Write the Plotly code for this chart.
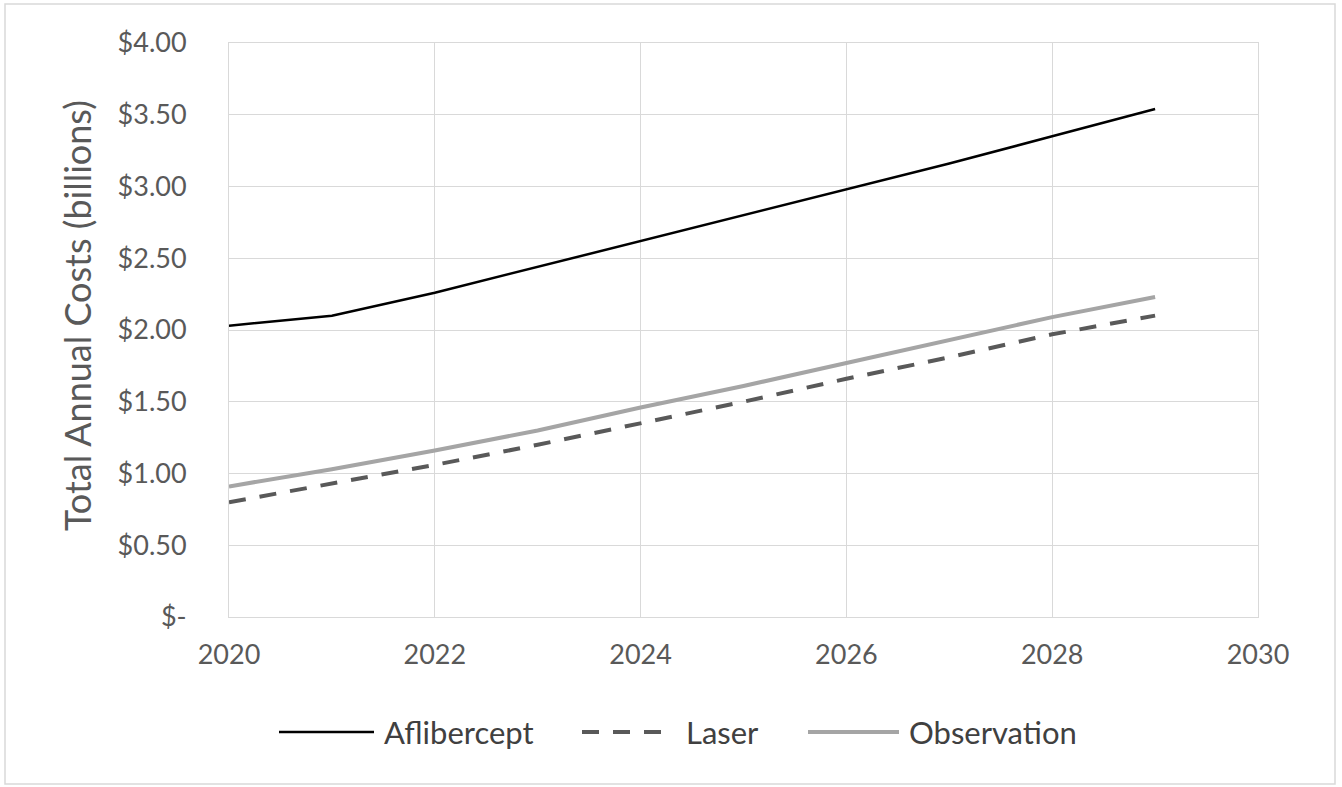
import plotly.graph_objects as go

# Projection years and annual cost (USD billions) per strategy
years = [2020, 2021, 2022, 2023, 2024, 2025, 2026, 2027, 2028, 2029]
aflibercept = [2.03, 2.10, 2.26, 2.44, 2.62, 2.80, 2.98, 3.16, 3.35, 3.54]
laser = [0.80, 0.93, 1.06, 1.20, 1.35, 1.50, 1.66, 1.81, 1.97, 2.10]
observation = [0.91, 1.03, 1.16, 1.30, 1.46, 1.61, 1.77, 1.93, 2.09, 2.23]

y_tickvals = [0, 0.5, 1.0, 1.5, 2.0, 2.5, 3.0, 3.5, 4.0]
y_ticktext = ["$-", "$0.50", "$1.00", "$1.50", "$2.00", "$2.50", "$3.00", "$3.50", "$4.00"]
x_tickvals = [2020, 2022, 2024, 2026, 2028, 2030]
y_title = "Total Annual Costs (billions)"

series = [
    ("Aflibercept", aflibercept, dict(color="#000000", width=2.5, dash="solid")),
    ("Laser", laser, dict(color="#595959", width=4, dash="17px,14px")),
    ("Observation", observation, dict(color="#A5A5A5", width=4, dash="solid")),
]

W, H = 1342, 787
L, R, T, B = 229, 84, 43, 170
PW, PH = W - L - R, H - T - B


def px_x(x):
    return (x - L) / PW


def px_y(y):
    return (H - B - y) / PH


FONT = "Lato, 'Open Sans', sans-serif"
fig = go.Figure()
for name, vals, line in series:
    fig.add_trace(go.Scatter(x=years, y=vals, mode="lines", name=name,
                             line=line, showlegend=False))

shapes = [
    # outer chart border
    dict(type="rect", xref="paper", yref="paper",
         x0=px_x(5), x1=px_x(1335), y0=px_y(784), y1=px_y(4),
         line=dict(color="#D9D9D9", width=1.5), fillcolor="rgba(0,0,0,0)"),
]
annotations = [
    # vertical axis title
    dict(text=y_title, xref="paper", yref="paper", x=px_x(77), y=px_y(316),
         xanchor="center", yanchor="middle", textangle=-90, showarrow=False,
         font=dict(family=FONT, size=36, color="#595959")),
]

# legend row beneath the axis
legend_items = [
    ("Aflibercept", series[0][2], 279, 374, 382),
    ("Laser", series[1][2], 582, 668, 684),
    ("Observation", series[2][2], 808, 899, 907),
]
ly = 732
for name, line, x0, x1, tx in legend_items:
    shapes.append(dict(type="line", xref="paper", yref="paper",
                       x0=px_x(x0), x1=px_x(x1), y0=px_y(ly), y1=px_y(ly),
                       line=dict(color=line["color"], width=line["width"],
                                 dash=line["dash"])))
    annotations.append(dict(text=name, xref="paper", yref="paper",
                            x=px_x(tx), y=px_y(ly), xanchor="left", yanchor="middle",
                            showarrow=False,
                            font=dict(family=FONT, size=31, color="#404040")))

fig.update_layout(
    width=W, height=H,
    margin=dict(l=L, r=R, t=T, b=B),
    paper_bgcolor="white", plot_bgcolor="white",
    font=dict(family=FONT, color="#595959"),
    shapes=shapes, annotations=annotations,
    showlegend=False,
)
fig.update_xaxes(
    range=[2020, 2030], tickvals=x_tickvals, ticks="",
    showgrid=True, gridcolor="#D9D9D9", gridwidth=1,
    showline=True, linecolor="#D9D9D9", mirror=True, zeroline=False,
    tickfont=dict(family=FONT, size=27, color="#595959"),
    ticklabelstandoff=14,
)
fig.update_yaxes(
    range=[0, 4], tickvals=y_tickvals, ticktext=y_ticktext, ticks="",
    showgrid=True, gridcolor="#D9D9D9", gridwidth=1,
    showline=True, linecolor="#D9D9D9", mirror=True, zeroline=False,
    tickfont=dict(family=FONT, size=27, color="#595959"),
    ticklabelstandoff=36,
)

fig.write_html("out.html")
